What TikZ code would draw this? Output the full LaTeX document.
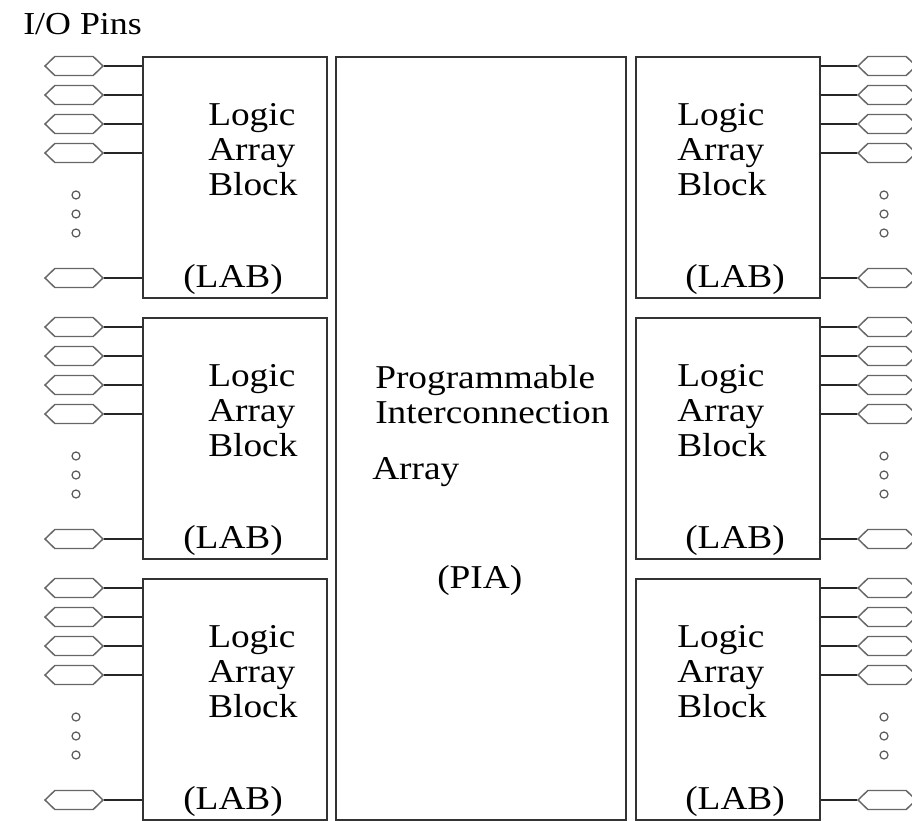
\documentclass[tikz,border=0pt]{standalone}
\usepackage{fontspec}
\setmainfont[FakeStretch=1.12]{Liberation Serif}
\usetikzlibrary{shapes.symbols}
\tikzset{
  lab/.style={draw=black!80, line width=1.3pt, inner sep=0pt, anchor=north west,
    minimum width=138pt, minimum height=180.75pt},
  pia/.style={lab, minimum width=217.5pt, minimum height=572.25pt},
  labtext/.style={anchor=base west, align=left, inner sep=0pt,
    font=\fontsize{25}{26}\selectfont},
  iopin/.style={signal, signal to=east and west, signal pointer angle=88,
    draw=black!60, line width=1.1pt, inner sep=0pt,
    minimum width=43.5pt, minimum height=14.25pt},
  pindot/.style={circle, draw=black!65, line width=0.9pt, inner sep=0pt, minimum size=6pt},
  wire/.style={draw=black!85, line width=1.1pt}
}
\begin{document}
\begin{tikzpicture}[x=0.75pt, y=-0.75pt]
  \useasboundingbox (0,0) rectangle (912,820);
  \node[labtext, font=\fontsize{24}{24}\selectfont] (iopins) at (23,35) {I/O Pins};
  % interconnection array in the middle
  \node[pia] (pia) at (335,56) {};
  \node[labtext] (piatext) at (375,423) {Programmable\\Interconnection};
  \node[labtext] (piaarray) at (372,479) {Array};
  \node[labtext] (piatag) at (437,588) {(PIA)};
  % three logic array blocks on each side
  \foreach \r in {0,1,2} {
    \pgfmathsetmacro\rowtop{56+261*\r}
    \node[lab] (labL\r) at (142,\rowtop) {};
    \node[lab] (labR\r) at (635,\rowtop) {};
    \node[labtext] (nameL\r) at (208,\rowtop+139) {Logic\\Array\\Block};
    \node[labtext] (nameR\r) at (677,\rowtop+139) {Logic\\Array\\Block};
    \node[labtext] (tagL\r) at (183,\rowtop+231) {(LAB)};
    \node[labtext] (tagR\r) at (685,\rowtop+231) {(LAB)};
    \foreach \y [count=\i] in {10,39,68,97,222} {
      \node[iopin] (pinL\r\i) at (74,\rowtop+\y) {};
      \node[iopin] (pinR\r\i) at (887,\rowtop+\y) {};
      \draw[wire] (pinL\r\i.east) -- (pinL\r\i.east -| labL\r.west);
      \draw[wire] (pinR\r\i.west) -- (pinR\r\i.west -| labR\r.east);
    }
    \foreach \y [count=\i] in {139,158,177} {
      \node[pindot] (dotL\r\i) at (76,\rowtop+\y) {};
      \node[pindot] (dotR\r\i) at (884,\rowtop+\y) {};
    }
  }
\end{tikzpicture}
\end{document}
